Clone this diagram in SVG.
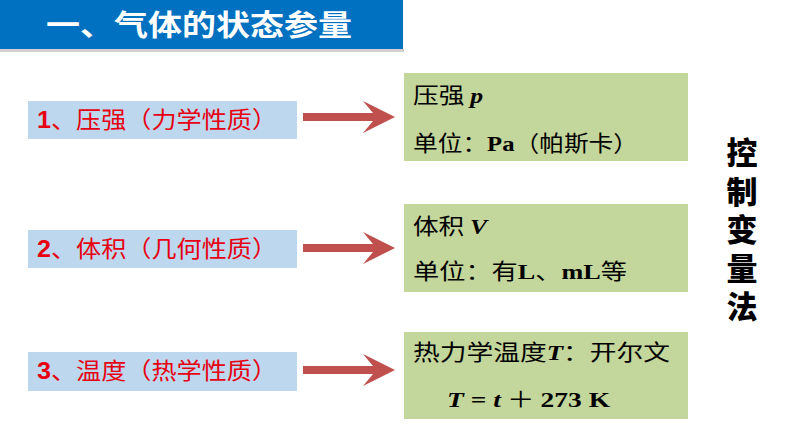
<svg xmlns="http://www.w3.org/2000/svg" xmlns:xlink="http://www.w3.org/1999/xlink" width="794" height="447" viewBox="0 0 794 447">
  <style>
    .title { font-family: "Noto Sans CJK SC", sans-serif; font-size: 29px; font-weight: bold; fill: #ffffff; }
    .prop { fill: #BDD7EE; }
    .red { font-family: "Noto Sans CJK SC", "Liberation Sans", sans-serif; font-size: 23px; fill: #E60012; }
    .green { fill: #C3D69B; }
    .blk { font-family: "Liberation Serif", "Noto Sans CJK SC", serif; font-size: 22px; fill: #000000; }
    .cn { font-family: "Noto Sans CJK SC", sans-serif; font-weight: normal; font-style: normal; }
    .bi { font-family: "Liberation Serif", serif; font-weight: bold; font-style: italic; }
    .b { font-family: "Liberation Serif", serif; font-weight: bold; }
    .side { font-family: "Noto Sans CJK SC", sans-serif; font-size: 31px; font-weight: 900; fill: #000000; }
    .arrow { fill: #C0504D; }
  </style>
  <defs>
    <path id="arr" d="M0,-4 H70 L60,-16 L92,0 L60,16 L70,4 H0 Z"/>
  </defs>
  <rect width="794" height="447" fill="#ffffff"/>

  <g id="title">
    <rect x="0" y="49" width="404" height="3" fill="#d0d0d0"/>
    <rect x="0" y="0" width="403" height="49" fill="#0070C0"/>
    <text class="title" x="46" y="36" textLength="306" lengthAdjust="spacingAndGlyphs">一、气体的状态参量</text>
  </g>

  <g id="prop1">
    <rect class="prop" x="28" y="101" width="269" height="38"/>
    <text class="red" x="37" y="128" textLength="240" lengthAdjust="spacingAndGlyphs"><tspan font-weight="bold" font-family="Liberation Sans">1</tspan>、压强（力学性质）</text>
  </g>
  <g id="prop2">
    <rect class="prop" x="28" y="230" width="269" height="38"/>
    <text class="red" x="37" y="257" textLength="240" lengthAdjust="spacingAndGlyphs"><tspan font-weight="bold" font-family="Liberation Sans">2</tspan>、体积（几何性质）</text>
  </g>
  <g id="prop3">
    <rect class="prop" x="28" y="352" width="269" height="39"/>
    <text class="red" x="37" y="379" textLength="240" lengthAdjust="spacingAndGlyphs"><tspan font-weight="bold" font-family="Liberation Sans">3</tspan>、温度（热学性质）</text>
  </g>

  <g id="connectors">
    <use xlink:href="#arr" href="#arr" class="arrow" transform="translate(303,117)"/>
    <use xlink:href="#arr" href="#arr" class="arrow" transform="translate(303,248)"/>
    <use xlink:href="#arr" href="#arr" class="arrow" transform="translate(303,370)"/>
  </g>

  <g id="pressure">
    <rect class="green" x="404" y="73" width="284" height="88"/>
    <text class="blk" x="413" y="103" textLength="70" lengthAdjust="spacingAndGlyphs"><tspan class="cn">压强 </tspan><tspan class="bi">p</tspan></text>
    <text class="blk" x="413" y="151" textLength="225" lengthAdjust="spacingAndGlyphs" font-size="23"><tspan class="cn">单位：</tspan><tspan class="b">Pa</tspan><tspan class="cn">（帕斯卡）</tspan></text>
  </g>
  <g id="volume">
    <rect class="green" x="404" y="204" width="284" height="88"/>
    <text class="blk" x="413" y="234" textLength="74" lengthAdjust="spacingAndGlyphs"><tspan class="cn">体积 </tspan><tspan class="bi">V</tspan></text>
    <text class="blk" x="413" y="279" textLength="214" lengthAdjust="spacingAndGlyphs" font-size="23"><tspan class="cn">单位：有</tspan><tspan class="b">L</tspan><tspan class="cn">、</tspan><tspan class="b">mL</tspan><tspan class="cn">等</tspan></text>
  </g>
  <g id="temperature">
    <rect class="green" x="404" y="332" width="284" height="87"/>
    <text class="blk" x="413" y="360" textLength="257" lengthAdjust="spacingAndGlyphs" font-size="23"><tspan class="cn">热力学温度</tspan><tspan class="bi">T</tspan><tspan class="cn">：开尔文</tspan></text>
    <text class="blk" x="447" y="407" textLength="163" lengthAdjust="spacingAndGlyphs" font-size="24"><tspan class="bi">T</tspan><tspan class="b"> = </tspan><tspan class="bi">t</tspan><tspan class="cn"> ＋ </tspan><tspan class="b">273 K</tspan></text>
  </g>

  <g id="side">
    <text class="side" x="742" y="137" writing-mode="vertical-rl" style="letter-spacing:7.5px">控制变量法</text>
  </g>
</svg>
